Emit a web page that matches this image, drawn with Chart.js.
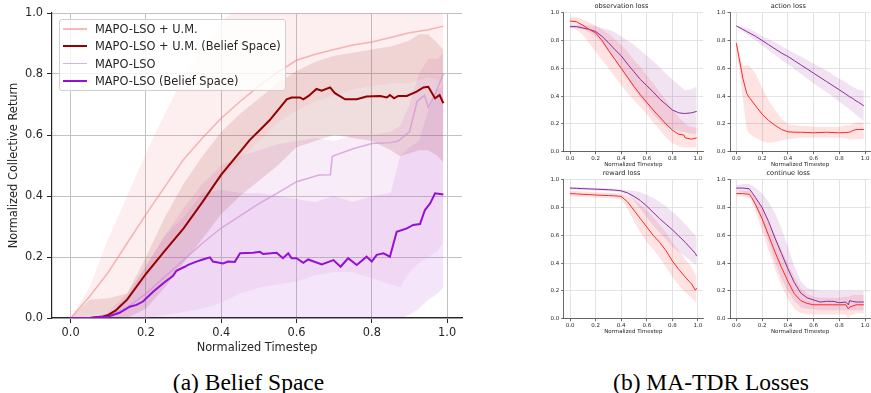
<!DOCTYPE html>
<html>
<head>
<meta charset="utf-8">
<script src="https://cdn.jsdelivr.net/npm/chart.js@4.4.1/dist/chart.umd.min.js"></script>
<style>
  body { margin:0; background:#fff; width:871px; height:393px; position:relative; overflow:hidden; font-family:"DejaVu Sans", sans-serif; }
  canvas { position:absolute; }
  .cap { position:absolute; top:371px; font-family:"Liberation Serif", serif; font-size:23.5px; line-height:23.5px; color:#000; white-space:nowrap; transform:translateX(-50%); }
  #legend { position:absolute; left:59px; top:19px; width:227px; height:72px; background:rgba(255,255,255,.8); border:1px solid #d0d0d0; border-radius:3px; box-sizing:border-box; }
  .lg-line { position:absolute; left:3px; width:24px; }
  .lg-text { position:absolute; left:35px; font-size:11.4px; line-height:14px; color:#262626; white-space:nowrap; }
</style>
</head>
<body>
<canvas id="mainChart" width="475" height="360" style="left:0;top:0"></canvas>
<div id="legend"></div>
<canvas id="obsChart" width="168" height="170" style="left:540px;top:0"></canvas>
<canvas id="actChart" width="165" height="170" style="left:706px;top:0"></canvas>
<canvas id="rewChart" width="168" height="170" style="left:540px;top:167px"></canvas>
<canvas id="conChart" width="165" height="170" style="left:706px;top:167px"></canvas>
<div class="cap" style="left:248.5px">(a) Belief Space</div>
<div class="cap" style="left:711px">(b) MA-TDR Losses</div>
<script>
// ---- (a) Belief Space data ----
const tickVals = [0, 0.2, 0.4, 0.6, 0.8, 1.0];
const seriesNames = ['MAPO-LSO + U.M.', 'MAPO-LSO + U.M. (Belief Space)', 'MAPO-LSO', 'MAPO-LSO (Belief Space)'];

const umX = [0,0.05,0.1,0.15,0.2,0.25,0.3,0.35,0.4,0.45,0.5,0.55,0.6,0.65,0.7,0.75,0.8,0.85,0.9,0.95,0.99];
const umY = [0,0.07,0.15,0.245,0.34,0.43,0.52,0.59,0.655,0.71,0.76,0.805,0.845,0.865,0.88,0.895,0.905,0.92,0.935,0.945,0.957];

const umBelX = [0,0.05,0.086,0.1,0.12,0.13,0.15,0.2,0.25,0.3,0.35,0.4,0.45,0.476,0.5,0.529,0.574,0.587,0.609,0.618,0.632,0.653,0.667,0.689,0.702,0.729,0.76,0.786,0.822,0.84,0.848,0.859,0.87,0.893,0.919,0.937,0.95,0.968,0.98,0.99];
const umBelY = [0,0,0.005,0.01,0.025,0.037,0.06,0.145,0.22,0.294,0.38,0.47,0.545,0.584,0.613,0.649,0.717,0.723,0.723,0.717,0.728,0.751,0.745,0.756,0.737,0.717,0.717,0.726,0.728,0.723,0.731,0.72,0.728,0.728,0.742,0.756,0.758,0.72,0.731,0.704];

const lsoX = [0,0.05,0.1,0.15,0.2,0.25,0.3,0.35,0.4,0.45,0.5,0.55,0.6,0.66,0.69,0.695,0.75,0.8,0.85,0.87,0.9,0.92,0.94,0.95,0.97,0.99];
const lsoY = [0,0,0.005,0.035,0.08,0.135,0.19,0.245,0.295,0.335,0.375,0.41,0.447,0.469,0.47,0.53,0.555,0.572,0.575,0.58,0.61,0.71,0.73,0.69,0.74,0.80];

const lsoBelX = [0,0.05,0.1,0.13,0.157,0.175,0.192,0.219,0.246,0.272,0.281,0.303,0.312,0.334,0.347,0.37,0.378,0.405,0.418,0.436,0.45,0.485,0.503,0.511,0.547,0.564,0.578,0.587,0.6,0.618,0.631,0.667,0.698,0.717,0.737,0.76,0.786,0.8,0.813,0.831,0.848,0.866,0.893,0.91,0.928,0.941,0.955,0.968,0.99];
const lsoBelY = [0,0,0.005,0.017,0.037,0.043,0.054,0.086,0.114,0.138,0.155,0.168,0.174,0.185,0.19,0.199,0.185,0.179,0.185,0.184,0.212,0.214,0.217,0.21,0.214,0.196,0.212,0.196,0.196,0.181,0.192,0.176,0.19,0.168,0.196,0.174,0.201,0.185,0.207,0.212,0.201,0.283,0.294,0.305,0.308,0.354,0.376,0.409,0.405];

// shaded ranges, shared x grid
const bandX = [0,0.05,0.1,0.15,0.2,0.25,0.3,0.35,0.4,0.45,0.5,0.55,0.6,0.65,0.7,0.75,0.8,0.85,0.875,0.9,0.925,0.95,0.975,0.99];
const umHi = [0,0.10,0.26,0.40,0.54,0.67,0.79,0.89,0.97,1.03,1.05,1.05,1.05,1.05,1.05,1.05,1.05,1.05,1.05,1.05,1.05,1.05,1.05,1.05];
const umLo = [0,0.01,0.02,0.06,0.13,0.22,0.31,0.39,0.46,0.52,0.58,0.64,0.68,0.71,0.73,0.75,0.76,0.77,0.77,0.77,0.78,0.79,0.78,0.75];
const umBelHi = [0,0.06,0.065,0.08,0.20,0.33,0.44,0.53,0.61,0.67,0.72,0.77,0.81,0.84,0.86,0.87,0.88,0.89,0.90,0.91,0.93,0.93,0.90,0.88];
const umBelLo = [0,0,0,0,0.03,0.10,0.18,0.26,0.34,0.40,0.45,0.50,0.56,0.58,0.60,0.59,0.58,0.55,0.53,0.54,0.55,0.55,0.53,0.51];
const lsoHi = [0,0,0.02,0.08,0.17,0.27,0.36,0.44,0.50,0.53,0.55,0.57,0.58,0.59,0.58,0.60,0.60,0.61,0.63,0.70,0.80,0.85,0.85,0.87];
const lsoLo = [0,0,0,0,0,0.01,0.02,0.03,0.05,0.08,0.10,0.11,0.12,0.14,0.15,0.15,0.13,0.11,0.10,0.15,0.18,0.20,0.22,0.25];
const lsoBelHi = [0,0,0.01,0.07,0.17,0.27,0.33,0.41,0.42,0.41,0.41,0.40,0.39,0.38,0.40,0.38,0.40,0.41,0.53,0.56,0.58,0.68,0.75,0.76];
const lsoBelLo = [0,0,0,0,0,0,0,0,0,0,0,0,0,0,0,0,0,0,0,0.01,0.03,0.06,0.08,0.10];

// ---- (b) MA-TDR losses data ----
const obsX = [0,0.05,0.1,0.15,0.2,0.25,0.3,0.35,0.4,0.45,0.5,0.55,0.6,0.65,0.7,0.75,0.8,0.85,0.89,0.9,0.95,0.99];
const obsRed = [0.94,0.935,0.91,0.88,0.855,0.80,0.73,0.665,0.60,0.535,0.47,0.41,0.355,0.30,0.25,0.20,0.155,0.125,0.12,0.10,0.09,0.10];
const obsRedHi = [0.97,0.97,0.95,0.93,0.91,0.88,0.85,0.81,0.77,0.72,0.66,0.61,0.55,0.49,0.43,0.37,0.31,0.25,0.21,0.20,0.18,0.17];
const obsRedLo = [0.90,0.88,0.84,0.78,0.72,0.66,0.60,0.54,0.48,0.42,0.37,0.32,0.27,0.21,0.16,0.10,0.06,0.04,0.03,0.03,0.03,0.03];
const obsPur = [0.90,0.90,0.89,0.88,0.865,0.83,0.785,0.735,0.69,0.63,0.575,0.52,0.475,0.43,0.38,0.34,0.30,0.28,0.275,0.275,0.28,0.29];
const obsPurHi = [0.91,0.91,0.91,0.91,0.90,0.89,0.88,0.86,0.83,0.80,0.77,0.73,0.69,0.65,0.61,0.56,0.52,0.48,0.45,0.44,0.45,0.47];
const obsPurLo = [0.89,0.89,0.88,0.86,0.83,0.78,0.72,0.66,0.59,0.52,0.45,0.39,0.33,0.27,0.22,0.18,0.16,0.15,0.14,0.14,0.13,0.13];

const actX = [0,0.02,0.05,0.08,0.1,0.15,0.2,0.25,0.3,0.35,0.4,0.45,0.5,0.55,0.6,0.65,0.7,0.75,0.8,0.85,0.88,0.9,0.93,0.95,0.99];
const actRed = [0.78,0.68,0.53,0.42,0.39,0.33,0.27,0.225,0.19,0.16,0.143,0.14,0.14,0.138,0.136,0.138,0.14,0.138,0.136,0.138,0.14,0.15,0.16,0.16,0.16];
const actRedHi = [0.80,0.72,0.62,0.62,0.62,0.56,0.46,0.37,0.30,0.24,0.20,0.19,0.185,0.185,0.18,0.18,0.18,0.18,0.18,0.19,0.19,0.20,0.21,0.21,0.21];
const actRedLo = [0.76,0.60,0.38,0.16,0.13,0.10,0.075,0.065,0.07,0.08,0.09,0.095,0.10,0.10,0.10,0.10,0.10,0.10,0.10,0.095,0.09,0.09,0.09,0.09,0.09];
const actPur = [0.905,0.895,0.88,0.865,0.855,0.83,0.80,0.77,0.74,0.71,0.685,0.655,0.625,0.595,0.565,0.535,0.505,0.475,0.445,0.415,0.395,0.385,0.365,0.355,0.33];
const actPurHi = [0.91,0.905,0.895,0.89,0.885,0.86,0.835,0.81,0.785,0.76,0.735,0.71,0.685,0.66,0.635,0.61,0.585,0.555,0.525,0.50,0.48,0.47,0.455,0.445,0.44];
const actPurLo = [0.90,0.885,0.865,0.845,0.83,0.80,0.765,0.73,0.695,0.66,0.63,0.595,0.56,0.525,0.49,0.46,0.43,0.395,0.36,0.325,0.305,0.29,0.265,0.25,0.22];

const rewX = [0,0.05,0.1,0.15,0.2,0.25,0.3,0.35,0.4,0.45,0.5,0.55,0.6,0.65,0.7,0.75,0.8,0.85,0.9,0.95,0.98,0.99];
const rewRed = [0.90,0.898,0.895,0.893,0.89,0.888,0.886,0.884,0.88,0.84,0.78,0.72,0.66,0.60,0.55,0.49,0.415,0.355,0.30,0.25,0.205,0.22];
const rewRedHi = [0.92,0.918,0.915,0.913,0.91,0.908,0.906,0.904,0.90,0.885,0.86,0.82,0.78,0.73,0.68,0.62,0.55,0.49,0.43,0.37,0.32,0.30];
const rewRedLo = [0.88,0.878,0.875,0.873,0.87,0.868,0.866,0.864,0.86,0.79,0.70,0.62,0.55,0.50,0.44,0.37,0.30,0.24,0.19,0.15,0.12,0.12];
const rewPur = [0.94,0.938,0.936,0.934,0.932,0.93,0.928,0.925,0.92,0.905,0.88,0.85,0.81,0.765,0.72,0.68,0.64,0.595,0.55,0.50,0.47,0.45];
const rewPurHi = [0.95,0.948,0.946,0.944,0.942,0.94,0.938,0.935,0.93,0.925,0.92,0.91,0.89,0.87,0.84,0.81,0.77,0.73,0.68,0.63,0.60,0.58];
const rewPurLo = [0.93,0.928,0.926,0.924,0.922,0.92,0.918,0.915,0.91,0.89,0.85,0.79,0.73,0.67,0.62,0.57,0.52,0.48,0.45,0.41,0.39,0.38];

const conX = [0,0.05,0.1,0.12,0.15,0.2,0.25,0.3,0.35,0.4,0.45,0.5,0.55,0.6,0.65,0.7,0.75,0.8,0.85,0.87,0.88,0.9,0.93,0.95,0.99];
const conRed = [0.90,0.90,0.895,0.87,0.82,0.72,0.60,0.48,0.37,0.27,0.18,0.13,0.11,0.10,0.10,0.10,0.10,0.10,0.10,0.07,0.085,0.09,0.10,0.10,0.10];
const conRedHi = [0.92,0.92,0.92,0.90,0.87,0.80,0.70,0.60,0.50,0.40,0.30,0.22,0.18,0.16,0.15,0.15,0.15,0.15,0.16,0.16,0.16,0.17,0.17,0.17,0.17];
const conRedLo = [0.88,0.88,0.87,0.84,0.77,0.63,0.49,0.36,0.24,0.14,0.07,0.04,0.03,0.03,0.03,0.03,0.03,0.03,0.03,0.00,0.02,0.03,0.04,0.04,0.04];
const conPur = [0.94,0.94,0.935,0.91,0.87,0.80,0.70,0.58,0.47,0.36,0.26,0.185,0.15,0.135,0.12,0.125,0.125,0.115,0.12,0.10,0.13,0.125,0.12,0.12,0.12];
const conPurHi = [0.96,0.97,0.97,0.96,0.94,0.90,0.84,0.76,0.65,0.52,0.38,0.27,0.22,0.21,0.20,0.20,0.20,0.20,0.20,0.20,0.20,0.20,0.20,0.20,0.20];
const conPurLo = [0.92,0.91,0.90,0.86,0.80,0.69,0.55,0.41,0.29,0.20,0.13,0.08,0.07,0.07,0.06,0.06,0.06,0.06,0.06,0.06,0.06,0.06,0.06,0.06,0.06];

const FONT = '"DejaVu Sans", sans-serif';
const TXT = '#262626';
const CLEAR = 'rgba(0,0,0,0)';

function pts(xs, ys){ return xs.map((x, i) => ({ x: x, y: ys[i] })); }
function bandSets(xs, lo, hi, color, order){
  return [
    { data: pts(xs, lo), borderColor: CLEAR, borderWidth: 0, pointRadius: 0, fill: false, order: order },
    { data: pts(xs, hi), borderColor: CLEAR, borderWidth: 0, pointRadius: 0, fill: '-1', backgroundColor: color, order: order }
  ];
}
function lineSet(xs, ys, color, width, order){
  return { data: pts(xs, ys), borderColor: color, borderWidth: width, pointRadius: 0, fill: false, tension: 0, order: order };
}
function axisTicks(s){ s.ticks = tickVals.map(v => ({ value: v })); }

// ---- main chart ----
const mainColors = ['rgba(240,128,128,0.55)', '#960000', 'rgba(210,150,215,0.75)', '#9410d6'];
const mainWidths = [1.5, 2, 1.5, 2];

new Chart(document.getElementById('mainChart'), {
  type: 'line',
  data: { datasets: [
    ...bandSets(bandX, umLo, umHi, 'rgba(240,128,128,0.13)', 3),
    ...bandSets(bandX, umBelLo, umBelHi, 'rgba(139,0,0,0.13)', 3),
    ...bandSets(bandX, lsoLo, lsoHi, 'rgba(221,160,221,0.2)', 3),
    ...bandSets(bandX, lsoBelLo, lsoBelHi, 'rgba(148,0,211,0.1)', 3),
    lineSet(umX, umY, mainColors[0], mainWidths[0], 2),
    lineSet(lsoX, lsoY, mainColors[2], mainWidths[2], 2),
    lineSet(umBelX, umBelY, mainColors[1], mainWidths[1], 1),
    lineSet(lsoBelX, lsoBelY, mainColors[3], mainWidths[3], 0)
  ]},
  options: {
    responsive: false, animation: false, events: [],
    layout: { padding: { top: 13, right: 13, bottom: 5, left: 0 } },
    plugins: { legend: { display: false }, tooltip: { enabled: false } },
    scales: {
      x: {
        type: 'linear', min: -0.0495, max: 1.0395,
        afterBuildTicks: axisTicks,
        afterFit: s => { s.height = 37; },
        ticks: { callback: v => v.toFixed(1), font: { family: FONT, size: 11.4 }, color: TXT, padding: 3, maxRotation: 0, autoSkip: false },
        grid: { color: '#c2c2c2', lineWidth: 1, tickLength: 5, tickColor: TXT },
        border: { color: TXT, width: 1.2 },
        title: { display: true, text: 'Normalized Timestep', font: { family: FONT, size: 11.4 }, color: TXT, padding: 0 }
      },
      y: {
        min: 0, max: 1,
        afterBuildTicks: axisTicks,
        afterFit: s => { s.width = 52; },
        ticks: { callback: v => v.toFixed(1), font: { family: FONT, size: 11.4 }, color: TXT, padding: 4, autoSkip: false },
        grid: { color: '#c2c2c2', lineWidth: 1, tickLength: 5, tickColor: TXT },
        border: { color: TXT, width: 1.2 },
        title: { display: true, text: 'Normalized Collective Return', font: { family: FONT, size: 11.4 }, color: TXT, padding: { top: 7, bottom: 0 } }
      }
    }
  }
});

// html legend with a framed box
const legendBox = document.getElementById('legend');
const rowCenters = [9, 26, 43.5, 60.5];
legendBox.innerHTML = seriesNames.map((name, i) => `
  <div class="lg-line" style="top:${rowCenters[i] - mainWidths[i] / 2}px;height:${mainWidths[i]}px;background:${mainColors[i]}"></div>
  <div class="lg-text" style="top:${rowCenters[i] - 7}px">${name}</div>`).join('');

// ---- loss subplots ----
function makeLoss(id, title, yWidth, padRight, xs, red, redLo, redHi, pur, purLo, purHi){
  new Chart(document.getElementById(id), {
    type: 'line',
    data: { datasets: [
      ...bandSets(xs, purLo, purHi, 'rgba(128,0,128,0.11)', 2),
      ...bandSets(xs, redLo, redHi, 'rgba(255,0,0,0.11)', 2),
      lineSet(xs, pur, '#8a2a9c', 1, 1),
      lineSet(xs, red, '#ff2424', 1, 0)
    ]},
    options: {
      responsive: false, animation: false, events: [],
      layout: { padding: { top: 0, right: padRight, bottom: 1.7, left: 0 } },
      plugins: {
        legend: { display: false }, tooltip: { enabled: false },
        title: { display: true, text: title, font: { family: FONT, size: 6.6, weight: 'normal' }, color: TXT, padding: { top: 2.8, bottom: 2 } }
      },
      scales: {
        x: {
          type: 'linear', min: -0.0495, max: 1.0395,
          afterBuildTicks: axisTicks,
          afterFit: s => { s.height = 16.6; },
          ticks: { callback: v => v.toFixed(1), font: { family: FONT, size: 5.5 }, color: TXT, padding: 1.5, maxRotation: 0, autoSkip: false },
          grid: { color: '#dcdcdc', lineWidth: 0.8, tickLength: 2.5, tickColor: '#444' },
          border: { color: '#444', width: 0.8 },
          title: { display: true, text: 'Normalized Timestep', font: { family: FONT, size: 5.5 }, color: TXT, padding: 0 }
        },
        y: {
          min: 0, max: 1,
          afterBuildTicks: axisTicks,
          afterFit: s => { s.width = yWidth; },
          ticks: { callback: v => v.toFixed(1), font: { family: FONT, size: 5.5 }, color: TXT, padding: 2, autoSkip: false },
          grid: { color: '#dcdcdc', lineWidth: 0.8, tickLength: 2.5, tickColor: '#444' },
          border: { color: '#444', width: 0.8 }
        }
      }
    }
  });
}

makeLoss('obsChart', 'observation loss', 23.7, 5, obsX, obsRed, obsRedLo, obsRedHi, obsPur, obsPurLo, obsPurHi);
makeLoss('actChart', 'action loss', 24, 0.5, actX, actRed, actRedLo, actRedHi, actPur, actPurLo, actPurHi);
makeLoss('rewChart', 'reward loss', 23.7, 5, rewX, rewRed, rewRedLo, rewRedHi, rewPur, rewPurLo, rewPurHi);
makeLoss('conChart', 'continue loss', 24, 0.5, conX, conRed, conRedLo, conRedHi, conPur, conPurLo, conPurHi);
</script>
</body>
</html>
